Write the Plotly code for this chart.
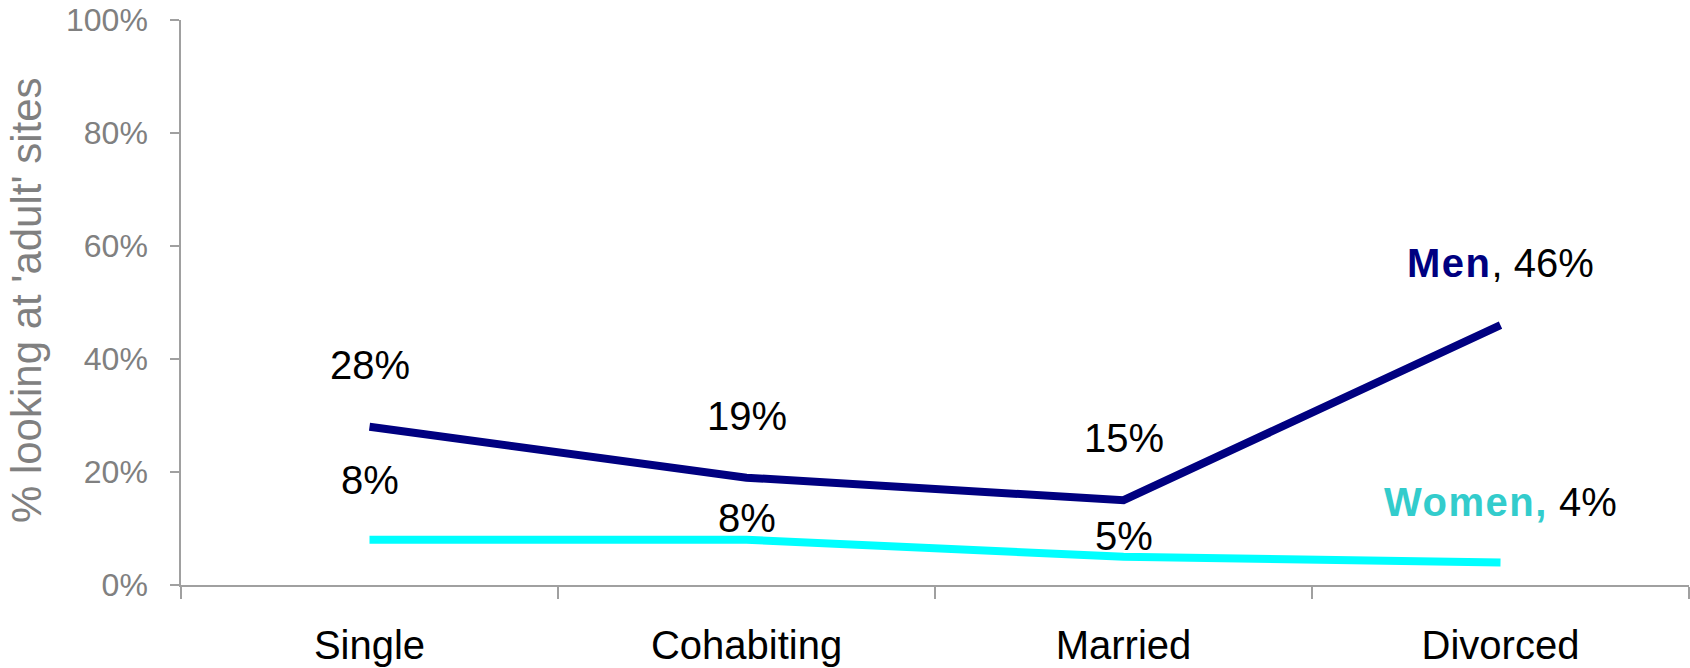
import plotly.graph_objects as go

# Marital status groups and share of each group looking at 'adult' sites (%)
categories = ["Single", "Cohabiting", "Married", "Divorced"]
men = [28, 19, 15, 46]
women = [8, 8, 5, 4]

FONT = "Liberation Sans, Arial, sans-serif"
GREY = "#808080"
NAVY = "#000080"
CYAN = "#00FFFF"
TEAL = "#33CCCC"

fig = go.Figure()
fig.add_trace(go.Scatter(x=categories, y=men, mode="lines", name="Men",
                         line=dict(color=NAVY, width=8)))
fig.add_trace(go.Scatter(x=categories, y=women, mode="lines", name="Women",
                         line=dict(color=CYAN, width=8)))


def label_text(series_name, colour, values, i):
    """Value label; the last point of each series also names the series."""
    if i < len(values) - 1:
        return f"{values[i]}%"
    style = f"color:{colour};letter-spacing:1.5px"
    if series_name == "Men":
        return f"<span style='{style}'><b>{series_name}</b></span>, {values[i]}%"
    return f"<span style='{style}'><b>{series_name},</b></span> {values[i]}%"


men_shift = [62, 62, 62, 62]
women_shift = [60, 22, 21, 60]
for i, cat in enumerate(categories):
    fig.add_annotation(x=cat, y=men[i], xref="x", yref="y",
                       text=label_text("Men", NAVY, men, i), showarrow=False,
                       yshift=men_shift[i], font=dict(family=FONT, size=40, color="black"))
    fig.add_annotation(x=cat, y=women[i], xref="x", yref="y",
                       text=label_text("Women", TEAL, women, i), showarrow=False,
                       yshift=women_shift[i], font=dict(family=FONT, size=40, color="black"))

# Vertical axis title
fig.add_annotation(x=-0.1025, y=0.505, xref="paper", yref="paper",
                   text="% looking at 'adult' sites", textangle=-90, showarrow=False,
                   xanchor="center", yanchor="middle",
                   font=dict(family=FONT, size=42, color=GREY))

fig.update_layout(
    width=1690, height=668,
    margin=dict(l=181, r=1, t=20, b=83),
    paper_bgcolor="white", plot_bgcolor="white",
    showlegend=False,
    font=dict(family=FONT),
)
fig.update_xaxes(
    type="category", range=[-0.5, 3.5], tickson="boundaries",
    showline=True, linecolor="#A0A0A0", linewidth=1.5,
    ticks="outside", ticklen=12, tickcolor="#A0A0A0", tickwidth=1.5,
    showgrid=False, zeroline=False,
    tickfont=dict(family=FONT, size=40, color="black"),
    ticklabelstandoff=24,
)
fig.update_yaxes(
    range=[0, 100], dtick=20, ticksuffix="%",
    showline=True, linecolor="#A0A0A0", linewidth=1.5,
    ticks="outside", ticklen=9, tickcolor="#A0A0A0", tickwidth=1.5,
    showgrid=False, zeroline=False,
    tickfont=dict(family=FONT, size=32, color=GREY),
    ticklabelstandoff=16,
)

fig.write_html("out.html")
